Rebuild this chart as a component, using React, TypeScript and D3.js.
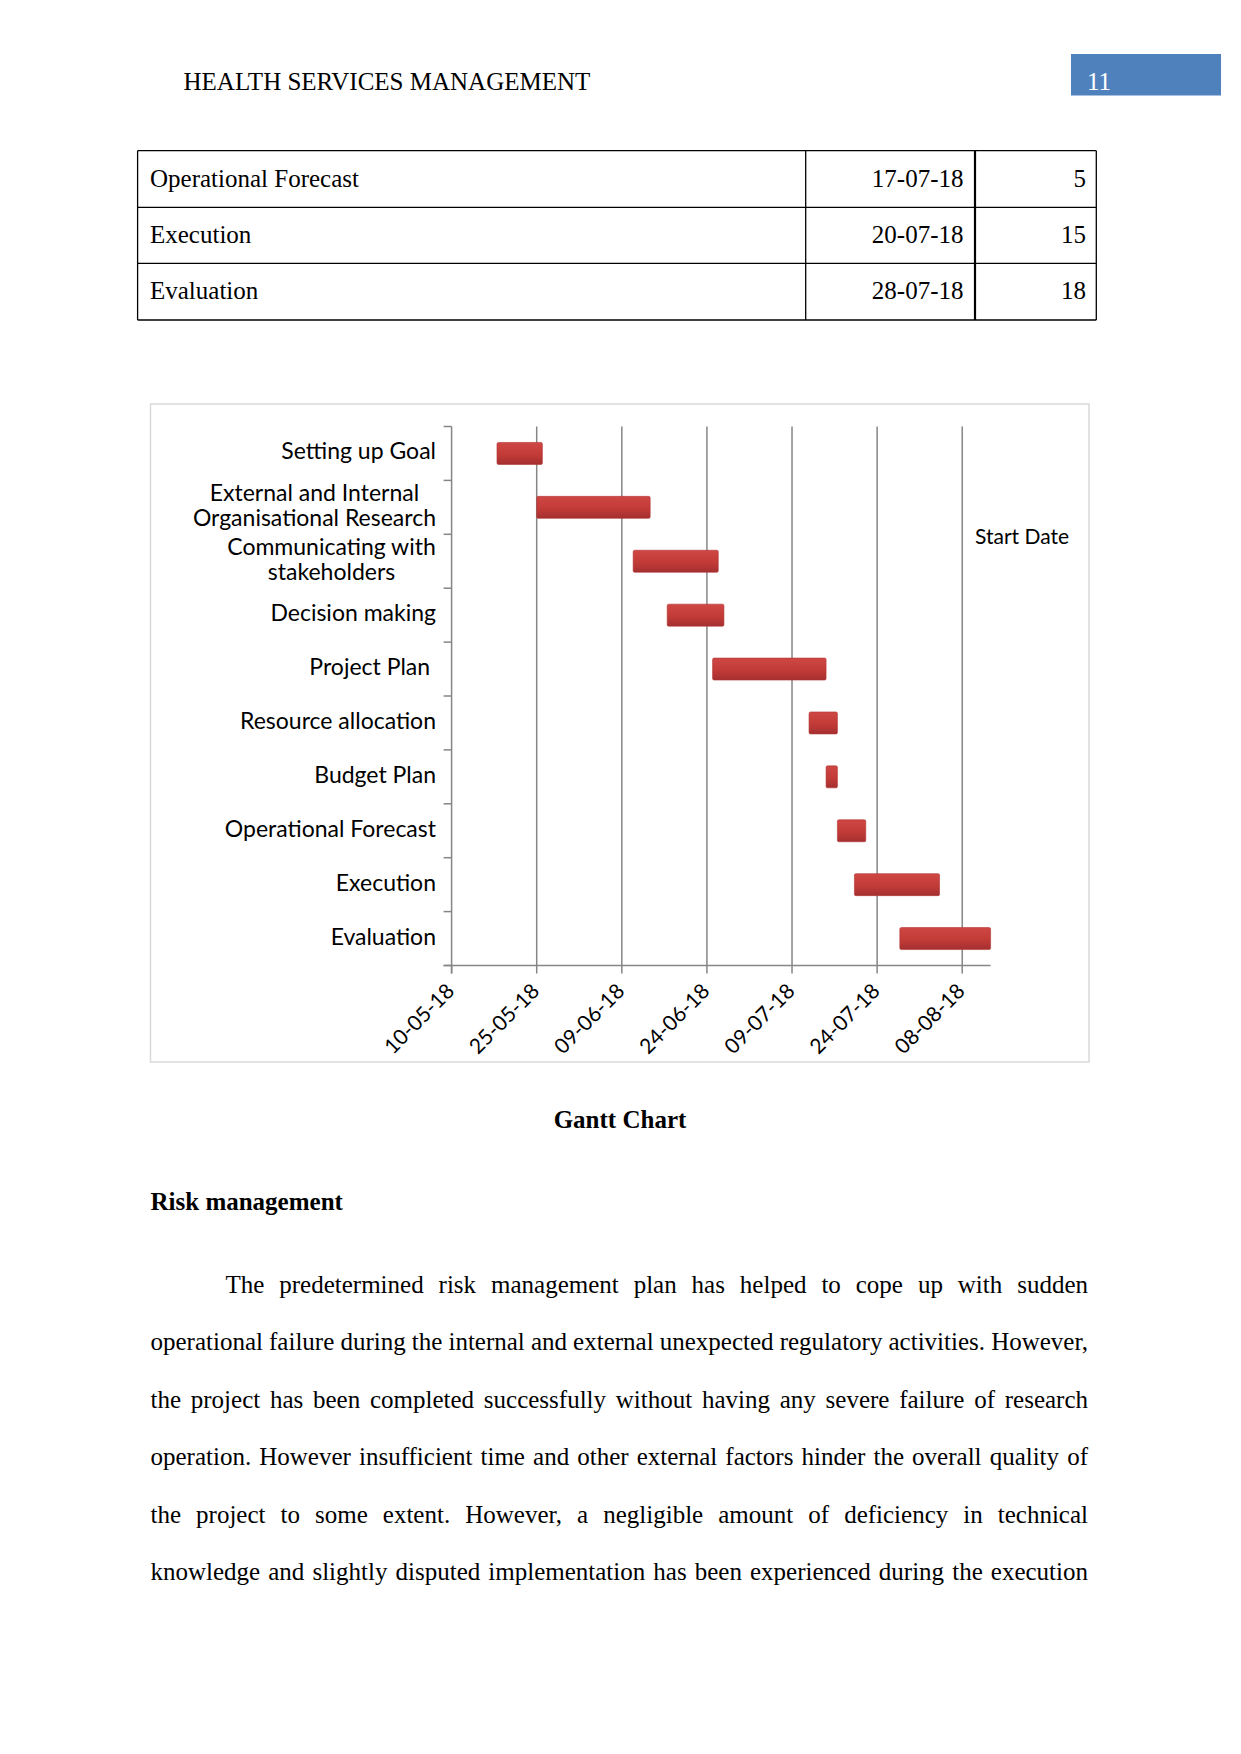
import React from "react";
import * as d3 from "d3";

// ---------- DATA ----------
const tasks = [
  "Setting up Goal",
  "External and Internal\nOrganisational Research",
  "Communicating with\nstakeholders",
  "Decision making",
  "Project Plan ",
  "Resource allocation",
  "Budget Plan",
  "Operational Forecast",
  "Execution",
  "Evaluation",
];
const startDates = [
  "18-05-18", "25-05-18", "11-06-18", "17-06-18", "25-06-18",
  "12-07-18", "15-07-18", "17-07-18", "20-07-18", "28-07-18",
];
const durations = [8, 20, 15, 10, 20, 5, 2, 5, 15, 18];
const axisStart = "10-05-18";
const axisEnd = "13-08-18";
const tickStepDays = 15;
const legendLabel = "Start Date";

const tableNames = ["Operational Forecast", "Execution", "Evaluation"];
const tableDates = ["17-07-18", "20-07-18", "28-07-18"];
const tableDurations = [5, 15, 18];

const headerText = "HEALTH SERVICES MANAGEMENT";
const pageNumber = "11";
const captionText = "Gantt Chart";
const headingText = "Risk management";
const paragraphLines = [
  "The predetermined risk management plan has helped to cope up with sudden",
  "operational failure during the internal and external unexpected regulatory activities. However,",
  "the project has been completed successfully without having any severe failure of research",
  "operation. However insufficient time and other external factors hinder the overall quality of",
  "the project to some extent. However, a negligible amount of deficiency in technical",
  "knowledge and slightly disputed implementation has been experienced during the execution",
];

// ---------- HELPERS ----------
const parseDate = d3.utcParse("%d-%m-%y");
const fmtDate = d3.utcFormat("%d-%m-%y");
const SERIF = "'Liberation Serif', 'Times New Roman', serif";
const SANS = "Lato, Carlito, Calibri, sans-serif";
const LABEL_FS = 23;
const TICK_FS = 21;
const SERIF_FS = 25;

let _ctx: CanvasRenderingContext2D | null = null;
function measure(text: string, font: string): number {
  if (!_ctx) {
    const c = document.createElement("canvas");
    _ctx = c.getContext("2d");
  }
  if (!_ctx) return text.length * 10;
  _ctx.font = font;
  return _ctx.measureText(text).width;
}

function JustifiedLine({ text, x0, x1, y }: { text: string; x0: number; x1: number; y: number }) {
  const words = text.split(" ");
  const font = `${SERIF_FS}px ${SERIF}`;
  const widths = words.map((w) => measure(w, font));
  const total = widths.reduce((a, b) => a + b, 0);
  const gap = words.length > 1 ? (x1 - x0 - total) / (words.length - 1) : 0;
  let cx = x0;
  return (
    <g>
      {words.map((w, i) => {
        const el = (
          <text key={i} x={cx} y={y} fontFamily={SERIF} fontSize={SERIF_FS} fill="#000">
            {w}
          </text>
        );
        cx += widths[i] + gap;
        return el;
      })}
    </g>
  );
}

export default function App() {
  const W = 1241;
  const H = 1754;

  // chart geometry
  const plotLeft = 451.6;
  const plotRight = 990.6;
  const plotTop = 426.5;
  const plotBottom = 965.5;

  const x = d3.scaleUtc().domain([parseDate(axisStart)!, parseDate(axisEnd)!]).range([plotLeft, plotRight]);
  const y = d3.scaleBand<number>().domain(d3.range(tasks.length)).range([plotTop, plotBottom]).paddingInner(0).paddingOuter(0);
  const barH = 22;

  const t0 = parseDate(axisStart)!;
  const tEnd = parseDate(axisEnd)!;
  const ticks: Date[] = [];
  for (let d = t0; d <= tEnd; d = d3.utcDay.offset(d, tickStepDays)) ticks.push(d);

  const bars = tasks.map((t, i) => {
    const s = parseDate(startDates[i])!;
    const e = d3.utcDay.offset(s, durations[i]);
    const xs = x(s);
    const xe = Math.min(x(e), plotRight);
    return { i, xs, xe, y: (y(i) as number) + y.bandwidth() / 2 - barH / 2 };
  });

  const labelRight = 436;
  const labelFont = `${LABEL_FS}px ${SANS}`;

  // table geometry
  const tLeft = 137.6, tC1 = 805.7, tC2 = 975, tRight = 1096.3;
  const rowTops = [150.7, 207.3, 263.3, 320];

  return (
    <svg
      width={W}
      height={H}
      viewBox={`0 0 ${W} ${H}`}
      style={{ position: "absolute", left: 0, top: 0, display: "block", background: "#fff" }}
    >
      <defs>
        <linearGradient id="barGrad" x1="0" y1="0" x2="0" y2="1">
          <stop offset="0%" stopColor="#cf4744" />
          <stop offset="55%" stopColor="#c23b37" />
          <stop offset="100%" stopColor="#a52f31" />
        </linearGradient>
      </defs>
      <rect x={0} y={0} width={W} height={H} fill="#fff" />

      {/* header */}
      <text x={183.5} y={90} fontFamily={SERIF} fontSize={SERIF_FS} fill="#000">{headerText}</text>
      <rect x={1071} y={54} width={150} height={41.5} fill="#4f81bd" />
      <text x={1087} y={90} fontFamily={SERIF} fontSize={SERIF_FS} fill="#fff">{pageNumber}</text>

      {/* table */}
      <g>
        {rowTops.map((ry, i) => (
          <line key={"h" + i} x1={tLeft} x2={tRight} y1={ry} y2={ry} stroke="#000" strokeWidth={1.3} />
        ))}
        <line x1={tLeft} x2={tLeft} y1={rowTops[0]} y2={rowTops[3]} stroke="#000" strokeWidth={1.3} />
        <line x1={tC1} x2={tC1} y1={rowTops[0]} y2={rowTops[3]} stroke="#000" strokeWidth={1.3} />
        <line x1={tC2} x2={tC2} y1={rowTops[0]} y2={rowTops[3]} stroke="#000" strokeWidth={2.2} />
        <line x1={tRight} x2={tRight} y1={rowTops[0]} y2={rowTops[3]} stroke="#000" strokeWidth={1.3} />
        {tableNames.map((n, i) => (
          <g key={"r" + i}>
            <text x={150} y={rowTops[i] + 36} fontFamily={SERIF} fontSize={SERIF_FS}>{n}</text>
            <text x={963.5} y={rowTops[i] + 36} fontFamily={SERIF} fontSize={SERIF_FS} textAnchor="end">{tableDates[i]}</text>
            <text x={1086} y={rowTops[i] + 36} fontFamily={SERIF} fontSize={SERIF_FS} textAnchor="end">{tableDurations[i]}</text>
          </g>
        ))}
      </g>

      {/* chart frame */}
      <rect x={150.5} y={404} width={938.5} height={658} fill="#fff" stroke="#d9d9d9" strokeWidth={1.5} />

      {/* gridlines */}
      {ticks.slice(1).map((t, i) => (
        <line key={"g" + i} x1={x(t)} x2={x(t)} y1={plotTop} y2={plotBottom} stroke="#868686" strokeWidth={1.5} />
      ))}

      {/* y axis */}
      <line x1={plotLeft} x2={plotLeft} y1={plotTop} y2={plotBottom + 8} stroke="#868686" strokeWidth={1.5} />
      {d3.range(tasks.length + 1).map((i) => {
        const yy = plotTop + i * y.step();
        return <line key={"yt" + i} x1={plotLeft - 8} x2={plotLeft} y1={yy} y2={yy} stroke="#868686" strokeWidth={1.5} />;
      })}
      {/* x axis */}
      <line x1={plotLeft - 8} x2={plotRight} y1={plotBottom} y2={plotBottom} stroke="#868686" strokeWidth={1.5} />
      {ticks.map((t, i) => (
        <line key={"xt" + i} x1={x(t)} x2={x(t)} y1={plotBottom} y2={plotBottom + 8} stroke="#868686" strokeWidth={1.5} />
      ))}
      {ticks.map((t, i) => (
        <text
          key={"xl" + i}
          transform={`translate(${x(t) + 4},${plotBottom + 27}) rotate(-45)`}
          textAnchor="end"
          fontFamily={SANS}
          fontSize={TICK_FS}
          fill="#000"
        >
          {fmtDate(t)}
        </text>
      ))}

      {/* bars */}
      {bars.map((b) => (
        <rect key={"b" + b.i} x={b.xs} y={b.y} width={b.xe - b.xs} height={barH} fill="url(#barGrad)" stroke="#b03432" strokeWidth={0.6} rx={1.5} />
      ))}

      {/* y labels */}
      {tasks.map((t, i) => {
        const lines = t.split("\n");
        const widths = lines.map((l) => measure(l, labelFont));
        const maxW = Math.max(...widths);
        const cx = labelRight - maxW / 2;
        const cy = (y(i) as number) + y.bandwidth() / 2;
        const lh = 25;
        return (
          <g key={"yl" + i}>
            {lines.map((l, j) => (
              <text
                key={j}
                x={lines.length > 1 ? cx : labelRight}
                y={cy + (j - (lines.length - 1) / 2) * lh + 6}
                textAnchor={lines.length > 1 ? "middle" : "end"}
                fontFamily={SANS}
                fontSize={LABEL_FS}
                fill="#000"
                style={{ whiteSpace: "pre" }}
              >
                {l}
              </text>
            ))}
          </g>
        );
      })}

      {/* legend */}
      <text x={975} y={544} fontFamily={SANS} fontSize={TICK_FS} fill="#000">{legendLabel}</text>

      {/* caption & body */}
      <text x={620} y={1128} textAnchor="middle" fontFamily={SERIF} fontSize={SERIF_FS} fontWeight="bold">{captionText}</text>
      <text x={150.5} y={1210} fontFamily={SERIF} fontSize={SERIF_FS} fontWeight="bold">{headingText}</text>
      {paragraphLines.map((l, i) => (
        <JustifiedLine key={"p" + i} text={l} x0={i === 0 ? 225.5 : 150.5} x1={1088} y={1292.7 + i * 57.5} />
      ))}
    </svg>
  );
}
